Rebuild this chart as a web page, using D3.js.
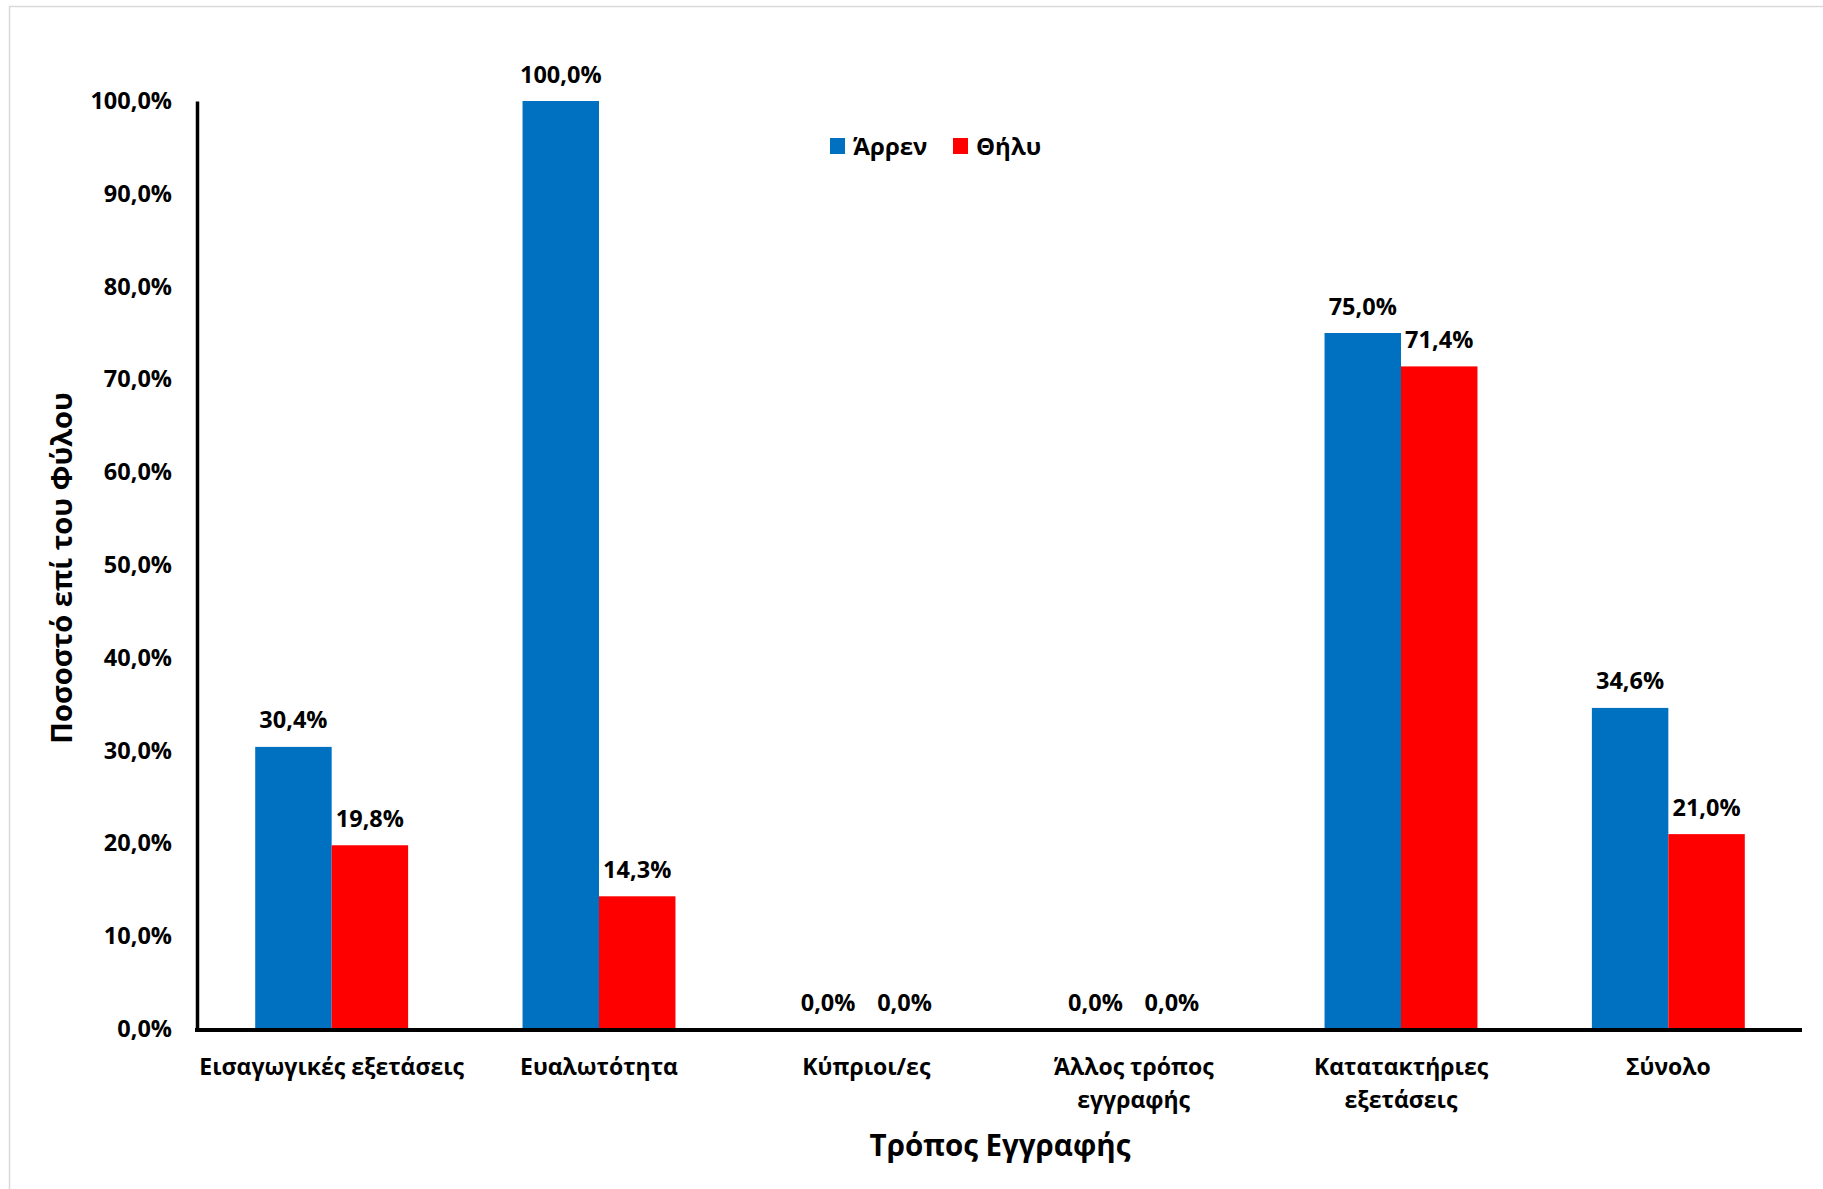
<!DOCTYPE html>
<html>
<head>
<meta charset="utf-8">
<script src="https://cdn.jsdelivr.net/npm/d3@7"></script>
<style>
  html, body { margin: 0; padding: 0; background: #fff; }
  svg { display: block; }
  text { font-family: "Open Sans", "Liberation Sans", sans-serif; font-weight: bold; fill: #000; }
</style>
</head>
<body>
<svg id="chart" width="1823" height="1189"></svg>
<script>
const categories = ["Εισαγωγικές εξετάσεις", "Ευαλωτότητα", "Κύπριοι/ες", "Άλλος τρόπος εγγραφής", "Κατατακτήριες εξετάσεις", "Σύνολο"];
const categoryLines = [["Εισαγωγικές εξετάσεις"], ["Ευαλωτότητα"], ["Κύπριοι/ες"], ["Άλλος τρόπος", "εγγραφής"], ["Κατατακτήριες", "εξετάσεις"], ["Σύνολο"]];
const seriesNames = ["Άρρεν", "Θήλυ"];
const male = [30.4, 100.0, 0.0, 0.0, 75.0, 34.6];
const female = [19.8, 14.3, 0.0, 0.0, 71.4, 21.0];
const yTicks = [0, 10, 20, 30, 40, 50, 60, 70, 80, 90, 100];
const colors = ["#0070C0", "#FF0000"];
const yTitle = "Ποσοστό επί του Φύλου";
const xTitle = "Τρόπος Εγγραφής";

const locale = d3.formatLocale({decimal: ",", thousands: ".", grouping: [3], currency: ["", "€"]});
const fmt = v => locale.format(".1f")(v) + "%";

const svg = d3.select("#chart");
svg.append("rect").attr("x", 9.5).attr("y", 6.5).attr("width", 1830).attr("height", 1200)
  .attr("fill", "#fff").attr("stroke", "#d9d9d9").attr("stroke-width", 1.5);

const mLeft = 198, mRight = 1802, mTop = 101, mBottom = 1029;

const x0 = d3.scaleBand().domain(categories).range([mLeft, mRight]).paddingInner(0.428).paddingOuter(0.214);
const x1 = d3.scaleBand().domain(seriesNames).range([0, x0.bandwidth()]);
const y = d3.scaleLinear().domain([0, 100]).range([mBottom, mTop]);

const data = categories.map((c, i) => ({cat: c, vals: [male[i], female[i]]}));

const groups = svg.append("g").selectAll("g").data(data).join("g")
  .attr("transform", d => `translate(${x0(d.cat)},0)`);

groups.selectAll("rect").data(d => d.vals.map((v, j) => ({v, j}))).join("rect")
  .attr("x", d => x1(seriesNames[d.j]))
  .attr("width", x1.bandwidth())
  .attr("y", d => y(d.v))
  .attr("height", d => y(0) - y(d.v))
  .attr("fill", d => colors[d.j]);

groups.selectAll("text.lbl").data(d => d.vals.map((v, j) => ({v, j}))).join("text")
  .attr("class", "lbl")
  .attr("x", d => x1(seriesNames[d.j]) + x1.bandwidth() / 2)
  .attr("y", d => y(d.v) - 18.5)
  .attr("text-anchor", "middle")
  .style("font-size", "23.5px")
  .text(d => fmt(d.v));

// Y axis
const yAxis = svg.append("g").attr("transform", `translate(${mLeft - 1},0)`)
  .call(d3.axisLeft(y).tickValues(yTicks).tickSize(0).tickPadding(25).tickFormat(fmt));
yAxis.select(".domain").attr("stroke", "#000").attr("stroke-width", 3.5);
yAxis.selectAll("text").style("font-size", "23.5px").style("font-family", "'Open Sans', sans-serif").style("font-weight", "bold");

// X axis
const xAxis = svg.append("g").attr("transform", `translate(0,${mBottom + 1})`)
  .call(d3.axisBottom(x0).tickSize(0).tickFormat(""));
xAxis.select(".domain").attr("stroke", "#000").attr("stroke-width", 4)
  .attr("d", `M${mLeft - 3},0H${mRight}`);
xAxis.selectAll(".tick").each(function(d) {
  const i = categories.indexOf(d);
  const t = d3.select(this).append("text")
    .attr("text-anchor", "middle")
    .attr("fill", "#000")
    .style("font-size", "23px");
  categoryLines[i].forEach((ln, k) => {
    t.append("tspan").attr("x", 0).attr("y", 45 + k * 33).text(ln);
  });
});

// Axis titles
svg.append("text").attr("transform", `translate(72,568) rotate(-90)`)
  .attr("text-anchor", "middle").style("font-size", "29px").text(yTitle);
svg.append("text").attr("x", (mLeft + mRight) / 2).attr("y", 1156)
  .attr("text-anchor", "middle").style("font-size", "29.5px").text(xTitle);

// Legend
const legend = svg.append("g");
const legX = [830, 953];
seriesNames.forEach((s, j) => {
  legend.append("rect").attr("x", legX[j]).attr("y", 138).attr("width", 15).attr("height", 16).attr("fill", colors[j]);
  legend.append("text").attr("x", legX[j] + 23).attr("y", 155).style("font-size", "24px").text(s);
});
</script>
</body>
</html>
